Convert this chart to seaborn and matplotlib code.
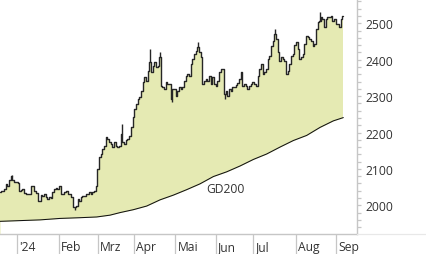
import numpy as np
import pandas as pd
import matplotlib
matplotlib.use("Agg")
import matplotlib.pyplot as plt
from matplotlib.lines import Line2D
from matplotlib.ticker import MultipleLocator, FixedLocator
import seaborn as sns

# ---- data ----
price = [
    2036, 2039, 2040, 2045, 2059, 2054, 2070, 2080, 2070, 2065,
    2063, 2061, 2040, 2043, 2045, 2034, 2031, 2031, 2031, 2052,
    2054, 2040, 2034, 2013, 2013, 2028, 2026, 2031, 2022, 2017,
    2022, 2020, 2036, 2045, 2048, 2046, 2054, 2031, 2031, 2036,
    2040, 2031, 2031, 2022, 1995, 1995, 1999, 2017, 2013, 2022,
    2026, 2026, 2031, 2031, 2036, 2031, 2036, 2040, 2054, 2100,
    2132, 2141, 2155, 2164, 2187, 2182, 2173, 2168, 2159, 2173,
    2164, 2159, 2164, 2196, 2174, 2168, 2179, 2182, 2190, 2215,
    2242, 2265, 2278, 2292, 2297, 2315, 2338, 2352, 2342, 2370,
    2394, 2365, 2384, 2393, 2379, 2384, 2407, 2329, 2324, 2320,
    2338, 2333, 2333, 2292, 2320, 2320, 2301, 2314, 2325, 2320,
    2324, 2342, 2356, 2361, 2356, 2388, 2402, 2416, 2425, 2435,
    2421, 2407, 2333, 2342, 2347, 2342, 2356, 2333, 2352, 2333,
    2329, 2342, 2366, 2374, 2374, 2306, 2315, 2301, 2320, 2315,
    2324, 2325, 2330, 2336, 2347, 2365, 2329, 2333, 2329, 2320,
    2329, 2333, 2338, 2333, 2329, 2356, 2374, 2388, 2361, 2365,
    2374, 2402, 2411, 2438, 2452, 2471, 2457, 2421, 2397, 2407,
    2402, 2397, 2361, 2370, 2388, 2410, 2416, 2440, 2449, 2429,
    2402, 2407, 2416, 2443, 2466, 2462, 2457, 2452, 2438, 2443,
    2484, 2503, 2507, 2516, 2512, 2489, 2512, 2516, 2516, 2521,
    2507, 2512, 2498, 2498, 2489, 2512, 2521,
]
# intraday extremes (wicks) that stick out beyond the closing line
wick_pos = [7, 45, 73, 90, 96, 103, 119, 135, 165, 192]
wick_end = [2083, 1986, 2223, 2429, 2421, 2284, 2449, 2292, 2484, 2531]

gd200_pos = [0, 12, 24, 36, 48, 58, 66, 72, 80, 88, 96, 104, 112, 120, 128,
             136, 144, 152, 160, 168, 176, 184, 192, 200, 206]
gd200 = [1956, 1958, 1960, 1964, 1966, 1968, 1973, 1980, 1988, 1998, 2015,
         2028, 2043, 2059, 2079, 2092, 2108, 2126, 2141, 2160, 2178, 2192,
         2214, 2232, 2241]
month_pos = [10.2, 35.2, 58.6, 80.2, 105.3, 129.4, 151.8, 177.6, 201.4]
month_labels = ["'24", "Feb", "Mrz", "Apr", "Mai", "Jun", "Jul", "Aug", "Sep"]
y_ticks = [2000, 2100, 2200, 2300, 2400, 2500]

df = pd.DataFrame({"t": np.arange(len(price)), "price": price})
dg = pd.DataFrame({"t": gd200_pos, "gd": gd200})

# ---- style ----
sns.set_style("white")
plt.rcParams["font.family"] = ["Open Sans", "DejaVu Sans"]

FILL = "#e5eab3"
GRAY = "#c6c6c6"
TXT = "#333333"
YMIN, YMAX = 1920.4, 2566.75

fig = plt.figure(figsize=(4.26, 2.55), dpi=100)
ax = fig.add_axes([0, 19.7 / 255, 357 / 426, 235.3 / 255])

ax.fill_between(df["t"], df["price"], YMIN, step="mid", color=FILL, lw=0, zorder=1)
ax.fill_between(dg["t"], dg["gd"], YMIN, color="white", lw=0, zorder=1.5)

sns.lineplot(data=df, x="t", y="price", ax=ax, color="#262626", lw=1.0,
             drawstyle="steps-mid", zorder=3)
closes_at_wicks = [price[i] for i in wick_pos]
ax.vlines(wick_pos, closes_at_wicks, wick_end, color="#262626", lw=1.0, zorder=3)
sns.lineplot(data=dg, x="t", y="gd", ax=ax, color="#111111", lw=0.75, zorder=3)

ax.text(123.5, 2047, "GD200", ha="left", va="center", fontsize=8.7, color=TXT)

ax.set_xlim(0, 214.2)
ax.set_ylim(YMIN, YMAX)
ax.set_xlabel("")
ax.set_ylabel("")

for s in ["left", "top"]:
    ax.spines[s].set_visible(False)
for s in ["right", "bottom"]:
    ax.spines[s].set_color(GRAY)
    ax.spines[s].set_linewidth(1.0)

# x axis: separator ticks with labels to the right
ax.xaxis.set_major_locator(FixedLocator(month_pos))
ax.set_xticklabels([])
ax.tick_params(axis="x", which="major", direction="out", length=14.6,
               width=0.9, color=GRAY, bottom=True)
xt = ax.get_xaxis_transform()
for p, lab in zip(month_pos, month_labels):
    ax.annotate(lab, xy=(p, 0), xycoords=xt, xytext=(2.5, -12),
                textcoords="offset pixels", ha="left", va="center",
                fontsize=8.7, color=TXT, annotation_clip=False)

# y axis on the right
ax.yaxis.tick_right()
ax.set_yticks(y_ticks)
ax.set_yticklabels([str(v) for v in y_ticks])
ax.yaxis.set_minor_locator(MultipleLocator(20))
ax.tick_params(axis="y", which="both", direction="out", length=3.0, width=0.9,
               color=GRAY, right=True, left=False, labelright=True,
               labelleft=False)
ax.tick_params(axis="y", which="major", pad=3.3, labelsize=8.7,
               labelcolor=TXT)
ax.grid(False)

fig.add_artist(Line2D([357 / 426, 1], [19.7 / 255, 19.7 / 255],
                      color="#e8e8e8", lw=0.9, transform=fig.transFigure))

fig.savefig("out.png", dpi=100)
